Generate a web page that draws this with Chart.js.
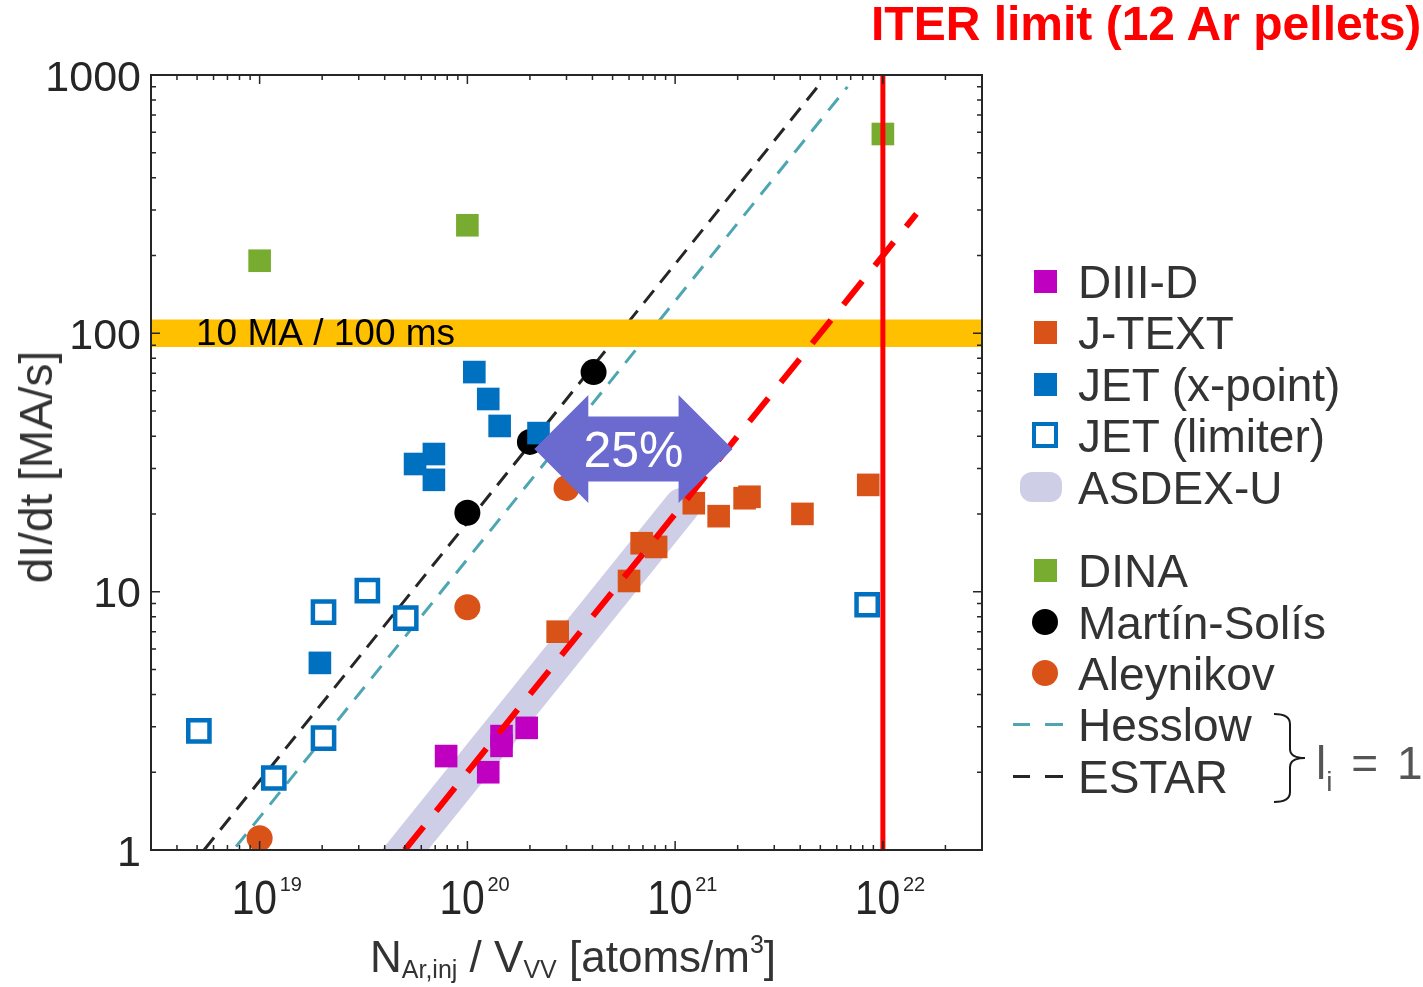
<!DOCTYPE html>
<html>
<head>
<meta charset="utf-8">
<script src="https://cdn.jsdelivr.net/npm/chart.js@4.4.1/dist/chart.umd.min.js"></script>
<style>
  html, body { margin: 0; padding: 0; background: #fff; }
  #wrap { position: relative; width: 1423px; height: 987px; overflow: hidden;
          font-family: "Liberation Sans", Arial, sans-serif; color: #333; }
  #chart { position: absolute; left: 0; top: 0; }
  .txt { position: absolute; white-space: nowrap; line-height: 1; }
  #title { left: 871px; top: 0px; font-size: 48px; font-weight: bold; color: #ff0000; }
  #xtitle { left: 370px; top: 935px; font-size: 44px; }
  #xtitle .sub { font-size: 25px; position: relative; top: 6px; }
  #xtitle .sup { font-size: 25px; position: relative; top: -19px; }
  #ytitle { left: 36px; top: 467px; font-size: 46px; transform: translate(-50%, -50%) rotate(-90deg); }
  .row { position: absolute; left: 0; height: 46px; width: 420px; }
  .row .lab { position: absolute; left: 1078px; top: 0; font-size: 46px; line-height: 46px; white-space: nowrap; }
  .mk { position: absolute; box-sizing: border-box; }
  #li { left: 1316px; top: 740px; font-size: 46px; color: #555; word-spacing: 6px; }
  #li span { font-size: 28px; position: relative; top: 12px; }
</style>
</head>
<body>
<div id="wrap">
  <canvas id="chart" width="1423" height="987"></canvas>
  <div class="txt" id="title">ITER limit (12 Ar pellets)</div>
  <div class="txt" id="ytitle">dI/dt [MA/s]</div>
  <div class="txt" id="xtitle">N<span class="sub">Ar,inj</span> / V<span class="sub">VV</span> [atoms/m<span class="sup">3</span>]</div>
  <div id="legend"></div>
  <svg style="position:absolute;left:0;top:0" width="1423" height="987">
    <path d="M1274,714 Q1290,714 1290,724 L1290,749 Q1290,758 1305,758 Q1290,758 1290,767 L1290,792 Q1290,802 1274,802"
          fill="none" stroke="#1a1a1a" stroke-width="2"/>
  </svg>
  <div class="txt" id="li">l<span>i</span> = 1</div>
</div>
<script>
// axis ranges and tick labels
const xRange = [3e18, 3e22];
const yRange = [1, 1000];
const xTickExps = [19, 20, 21, 22];
const yTickVals = [1, 10, 100, 1000];

// measured points
const diiidX = [7.9e19, 1.26e20, 1.46e20, 1.46e20, 1.93e20];
const diiidY = [2.31, 2.00, 2.76, 2.53, 2.97];
const jtextX = [2.72e20, 6.0e20, 6.9e20, 8.1e20, 1.23e21, 1.62e21, 2.16e21, 2.28e21, 4.1e21, 8.5e21];
const jtextY = [7.0, 11.0, 15.4, 14.9, 22.0, 19.6, 23.0, 23.3, 20.0, 25.9];
const jetXpointX = [1.08e20, 1.26e20, 1.43e20, 2.2e20, 5.6e19, 6.9e19, 6.9e19, 1.95e19];
const jetXpointY = [70.8, 55.7, 43.8, 41.1, 31.2, 34.1, 27.1, 5.3];
const jetLimiterX = [5.1e18, 1.17e19, 2.03e19, 2.03e19, 3.3e19, 5.05e19, 8.4e21];
const jetLimiterY = [2.89, 1.90, 8.34, 2.71, 10.1, 7.9, 8.9];

// simulations
const dinaX = [1.0e19, 1.0e20, 1.0e22];
const dinaY = [191, 262, 591];
const martinSolisX = [1.0e20, 2.0e20, 4.05e20];
const martinSolisY = [20.2, 38.0, 70.8];
const aleynikovX = [1.0e19, 1.0e20, 3.0e20];
const aleynikovY = [1.11, 8.7, 25.2];

// lines and bands
const hesslowX = [7.7e18, 6.75e21];
const hesslowY = [1.03, 900];
const estarX = [5.4e18, 4.85e21];
const estarY = [1.0, 900];
const fitX = [5.0e19, 1.45e22];
const fitY = [1.0, 290];
const asdexX = [4.0e19, 1.08e21];
const asdexY = [0.8, 21.5];
const limitBandX = [3e18, 3e22];
const limitBandTop = 113;
const limitBandBottom = 88.6;
const iterLimitX = 1e22;
const arrowX = [2.1e20, 1.89e21];
const arrowY = 35.7;

function pts(xs, ys) { return xs.map((x, i) => ({x: x, y: ys[i]})); }

function squares(label, xs, ys, color, order) {
  return { label: label, data: pts(xs, ys), pointStyle: 'rect', pointRadius: 16,
           backgroundColor: color, borderWidth: 0, order: order, clip: 0 };
}
function circles(label, xs, ys, color, order) {
  return { label: label, data: pts(xs, ys), pointStyle: 'circle', pointRadius: 13,
           backgroundColor: color, borderWidth: 0, order: order, clip: 0 };
}
function line(label, xs, ys, color, width, dash, order) {
  return { type: 'line', label: label, data: pts(xs, ys), borderColor: color, borderWidth: width,
           borderDash: dash, pointRadius: 0, fill: false, order: order, clip: 0 };
}

const datasets = [
  line('ITER limit', [iterLimitX, iterLimitX], yRange, '#ff0000', 5, [], 1),
  line('fit', fitX, fitY, '#ff0000', 6, [30, 20], 2),
  squares('DIII-D', diiidX, diiidY, '#c000c0', 3),
  squares('J-TEXT', jtextX, jtextY, '#d95319', 3),
  squares('JET (x-point)', jetXpointX, jetXpointY, '#0070c0', 3),
  { label: 'JET (limiter)', data: pts(jetLimiterX, jetLimiterY), pointStyle: 'rect', pointRadius: 15,
    backgroundColor: '#ffffff', borderColor: '#0070c0', borderWidth: 4.5, order: 3, clip: 0 },
  squares('DINA', dinaX, dinaY, '#77ac30', 3),
  circles('Martín-Solís', martinSolisX, martinSolisY, '#000000', 3),
  circles('Aleynikov', aleynikovX, aleynikovY, '#d95319', 3),
  { type: 'line', label: '10 MA / 100 ms', data: pts(limitBandX, [limitBandTop, limitBandTop]),
    borderWidth: 0, pointRadius: 0, fill: {value: limitBandBottom}, backgroundColor: '#ffc000',
    order: 10, clip: 0 },
  line('Hesslow', hesslowX, hesslowY, '#4da6b2', 3, [16, 11], 11),
  line('ESTAR', estarX, estarY, '#262626', 3, [16, 10], 12),
  Object.assign(line('ASDEX-U', asdexX, asdexY, '#cecee6', 36, [], 13), { borderCapStyle: 'round' })
];

function logTicks(min, max) {
  const out = [];
  for (let e = Math.floor(Math.log10(min)); e <= Math.ceil(Math.log10(max)); e++) {
    for (let k = 1; k < 10; k++) {
      const v = k * Math.pow(10, e);
      if (v >= min * 0.999 && v <= max * 1.001) out.push({v: v, major: k === 1});
    }
  }
  return out;
}

const overlay = {
  id: 'overlay',
  afterDatasetsDraw(chart) {
    const ctx = chart.ctx, a = chart.chartArea, x = chart.scales.x, y = chart.scales.y;
    ctx.save();

    // band label
    ctx.fillStyle = '#000';
    ctx.font = '37px "Liberation Sans", Arial, sans-serif';
    ctx.textAlign = 'left';
    ctx.textBaseline = 'alphabetic';
    ctx.fillText('10 MA / 100 ms', a.left + 45, y.getPixelForValue(Math.sqrt(limitBandTop * limitBandBottom)) + 12);

    // 25% double arrow
    const L = x.getPixelForValue(arrowX[0]), R = x.getPixelForValue(arrowX[1]);
    const cy = y.getPixelForValue(arrowY);
    const hl = 54, hh = 54, bh = 32.5;
    ctx.fillStyle = '#6b6bcf';
    ctx.beginPath();
    ctx.moveTo(L, cy);
    ctx.lineTo(L + hl, cy - hh); ctx.lineTo(L + hl, cy - bh);
    ctx.lineTo(R - hl, cy - bh); ctx.lineTo(R - hl, cy - hh);
    ctx.lineTo(R, cy);
    ctx.lineTo(R - hl, cy + hh); ctx.lineTo(R - hl, cy + bh);
    ctx.lineTo(L + hl, cy + bh); ctx.lineTo(L + hl, cy + hh);
    ctx.closePath();
    ctx.fill();
    ctx.fillStyle = '#fff';
    ctx.font = '50px "Liberation Sans", Arial, sans-serif';
    ctx.textAlign = 'center';
    ctx.fillText('25%', (L + R) / 2, cy + 18);

    // frame and inward ticks
    ctx.strokeStyle = '#262626';
    ctx.lineWidth = 2;
    ctx.strokeRect(a.left, a.top, a.right - a.left, a.bottom - a.top);
    ctx.lineWidth = 1.5;
    ctx.beginPath();
    logTicks(xRange[0], xRange[1]).forEach(t => {
      const px = x.getPixelForValue(t.v), len = t.major ? 9 : 5;
      ctx.moveTo(px, a.bottom); ctx.lineTo(px, a.bottom - len);
      ctx.moveTo(px, a.top); ctx.lineTo(px, a.top + len);
    });
    logTicks(yRange[0], yRange[1]).forEach(t => {
      const py = y.getPixelForValue(t.v), len = t.major ? 9 : 5;
      ctx.moveTo(a.left, py); ctx.lineTo(a.left + len, py);
      ctx.moveTo(a.right, py); ctx.lineTo(a.right - len, py);
    });
    ctx.stroke();

    // tick labels
    ctx.fillStyle = '#262626';
    ctx.textAlign = 'right';
    ctx.font = '43px "Liberation Sans", Arial, sans-serif';
    yTickVals.forEach(v => {
      ctx.fillText(String(v), a.left - 10, y.getPixelForValue(v) + 15.5);
    });
    ctx.textAlign = 'left';
    xTickExps.forEach(e => {
      const px = x.getPixelForValue(Math.pow(10, e));
      ctx.save();
      ctx.translate(px - 28, a.bottom + 64);
      ctx.scale(0.95, 1.1);
      ctx.font = '43px "Liberation Sans", Arial, sans-serif';
      ctx.fillText('10', 0, 0);
      ctx.restore();
      ctx.font = '20px "Liberation Sans", Arial, sans-serif';
      ctx.fillText(String(e), px + 20, a.bottom + 41);
    });
    ctx.restore();
  }
};

new Chart(document.getElementById('chart'), {
  type: 'scatter',
  data: { datasets: datasets },
  options: {
    responsive: false,
    animation: false,
    devicePixelRatio: 1,
    events: [],
    layout: { padding: { left: 151, right: 441, top: 75, bottom: 137 } },
    scales: {
      x: { type: 'logarithmic', min: xRange[0], max: xRange[1], display: false },
      y: { type: 'logarithmic', min: yRange[0], max: yRange[1], display: false }
    },
    plugins: { legend: { display: false }, tooltip: { enabled: false } }
  },
  plugins: [overlay]
});

// legend on the right
const legendItems = [
  { label: 'DIII-D', kind: 'square', color: '#c000c0', cy: 281 },
  { label: 'J-TEXT', kind: 'square', color: '#d95319', cy: 332 },
  { label: 'JET (x-point)', kind: 'square', color: '#0070c0', cy: 384 },
  { label: 'JET (limiter)', kind: 'hollow', color: '#0070c0', cy: 435 },
  { label: 'ASDEX-U', kind: 'band', color: '#cecee6', cy: 487 },
  { label: 'DINA', kind: 'square', color: '#77ac30', cy: 570 },
  { label: 'Martín-Solís', kind: 'circle', color: '#000000', cy: 622 },
  { label: 'Aleynikov', kind: 'circle', color: '#d95319', cy: 673 },
  { label: 'Hesslow', kind: 'dash', color: '#4da6b2', cy: 724 },
  { label: 'ESTAR', kind: 'dash', color: '#262626', cy: 776 }
];

const legend = document.getElementById('legend');
legendItems.forEach(it => {
  const row = document.createElement('div');
  row.className = 'row';
  row.style.top = (it.cy - 22.5) + 'px';
  const top = 22.5;
  const mk = [];
  if (it.kind === 'square') {
    mk.push({ l: 1034, t: top - 11.5, w: 23, h: 23, css: 'background:' + it.color });
  } else if (it.kind === 'hollow') {
    mk.push({ l: 1032, t: top - 13, w: 26, h: 26, css: 'border:4px solid ' + it.color + ';background:#fff' });
  } else if (it.kind === 'band') {
    mk.push({ l: 1020, t: top - 15, w: 42, h: 30, css: 'background:' + it.color + ';border-radius:12px' });
  } else if (it.kind === 'circle') {
    mk.push({ l: 1032, t: top - 13, w: 26, h: 26, css: 'background:' + it.color + ';border-radius:50%' });
  } else {
    mk.push({ l: 1013, t: top - 1.5, w: 17, h: 3, css: 'background:' + it.color });
    mk.push({ l: 1045, t: top - 1.5, w: 18, h: 3, css: 'background:' + it.color });
  }
  mk.forEach(m => {
    const d = document.createElement('div');
    d.className = 'mk';
    d.style.cssText = 'left:' + m.l + 'px;top:' + m.t + 'px;width:' + m.w + 'px;height:' + m.h + 'px;' + m.css;
    row.appendChild(d);
  });
  const lab = document.createElement('div');
  lab.className = 'lab';
  lab.textContent = it.label;
  row.appendChild(lab);
  legend.appendChild(row);
});
</script>
</body>
</html>
